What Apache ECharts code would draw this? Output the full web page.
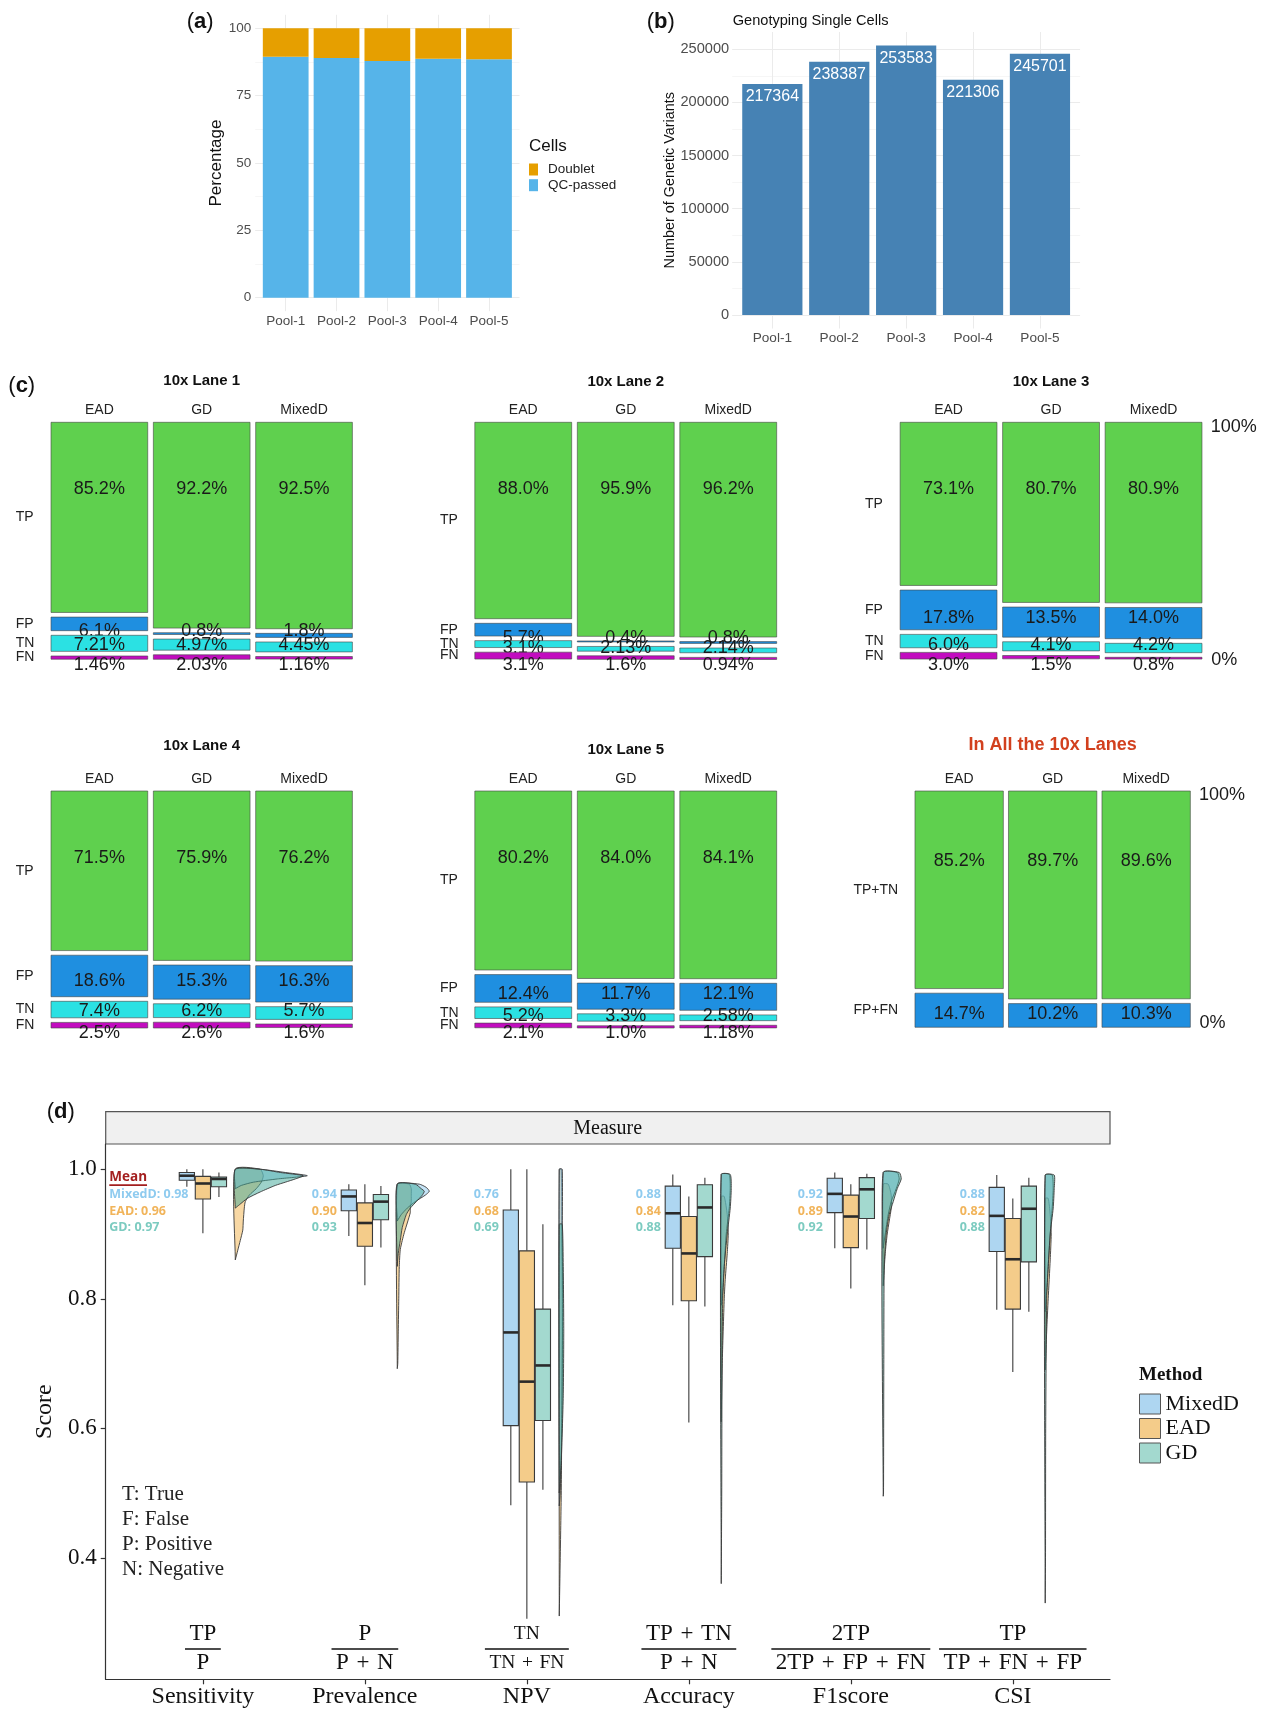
<!DOCTYPE html>
<html>
<head>
<meta charset="utf-8">
<title>Figure</title>
<script src="https://cdn.jsdelivr.net/npm/echarts@6.0.0/dist/echarts.min.js"></script>
<style>
html,body{margin:0;padding:0;background:#ffffff;}
#chart{width:1266px;height:1712px;}
</style>
</head>
<body>
<div id="chart"></div>
<script>
// ================= DATA =================
// (a) cell QC
const pools = ['Pool-1', 'Pool-2', 'Pool-3', 'Pool-4', 'Pool-5'];
const qcPassedPct = [89.4, 89.0, 87.9, 88.7, 88.5];
const doubletPct = [10.6, 11.0, 12.1, 11.3, 11.5];
const pctTicks = [0, 25, 50, 75, 100];
const pctMinorTicks = [12.5, 37.5, 62.5, 87.5];

// (b) genotyping
const variantCounts = [217364, 238387, 253583, 221306, 245701];
const variantTicks = [0, 50000, 100000, 150000, 200000, 250000];
const variantMinorTicks = [25000, 75000, 125000, 175000, 225000];

// (c) mosaic panels: per method [EAD, GD, MixedD], segments in row order
const mosaicMethods = ['EAD', 'GD', 'MixedD'];
const outcomeRows = ['TP', 'FP', 'TN', 'FN'];
const combinedRows = ['TP+TN', 'FP+FN'];
const lane1 = [['85.2', '6.1', '7.21', '1.46'], ['92.2', '0.8', '4.97', '2.03'], ['92.5', '1.8', '4.45', '1.16']];
const lane2 = [['88.0', '5.7', '3.1', '3.1'], ['95.9', '0.4', '2.13', '1.6'], ['96.2', '0.8', '2.14', '0.94']];
const lane3 = [['73.1', '17.8', '6.0', '3.0'], ['80.7', '13.5', '4.1', '1.5'], ['80.9', '14.0', '4.2', '0.8']];
const lane4 = [['71.5', '18.6', '7.4', '2.5'], ['75.9', '15.3', '6.2', '2.6'], ['76.2', '16.3', '5.7', '1.6']];
const lane5 = [['80.2', '12.4', '5.2', '2.1'], ['84.0', '11.7', '3.3', '1.0'], ['84.1', '12.1', '2.58', '1.18']];
const allLanes = [['85.2', '14.7'], ['89.7', '10.2'], ['89.6', '10.3']];

// (d) raincloud
const measures = ['Sensitivity', 'Prevalence', 'NPV', 'Accuracy', 'F1score', 'CSI'];
const methodsD = ['MixedD', 'EAD', 'GD'];
const scoreTicks = [0.4, 0.6, 0.8, 1.0];
const measureTicks = [1, 2, 3, 4, 5, 6];
// box stats: [min, Q1, median, Q3, max]
const boxMixedD = [[0.973, 0.983, 0.990, 0.995, 1.000], [0.897, 0.936, 0.958, 0.968, 0.977], [0.481, 0.604, 0.748, 0.937, 1.000],
                   [0.790, 0.878, 0.932, 0.974, 0.992], [0.878, 0.933, 0.962, 0.986, 0.995], [0.783, 0.873, 0.928, 0.972, 0.991]];
const boxEAD = [[0.901, 0.954, 0.978, 0.989, 1.000], [0.821, 0.881, 0.917, 0.948, 0.977], [0.306, 0.517, 0.672, 0.874, 1.000],
                [0.609, 0.797, 0.870, 0.927, 0.958], [0.816, 0.879, 0.927, 0.960, 0.977], [0.687, 0.784, 0.861, 0.924, 0.955]];
const boxGD = [[0.957, 0.973, 0.985, 0.988, 0.995], [0.879, 0.922, 0.950, 0.961, 0.974], [0.505, 0.612, 0.697, 0.784, 0.915],
               [0.788, 0.865, 0.941, 0.976, 0.987], [0.876, 0.924, 0.969, 0.987, 0.993], [0.780, 0.857, 0.939, 0.974, 0.987]];
const meanMixedD = [0.98, 0.94, 0.76, 0.88, 0.92, 0.88];
const meanEAD = [0.96, 0.90, 0.68, 0.84, 0.89, 0.82];
const meanGD = [0.97, 0.93, 0.69, 0.88, 0.92, 0.88];
// half-violin density profiles: [score, relative density]
const violinMixedD = [
  [[1.0, 25], [0.995, 50], [0.99, 72], [0.985, 42], [0.98, 18], [0.975, 6], [0.97, 0]],
  [[0.977, 22], [0.972, 29], [0.966, 32], [0.96, 28], [0.95, 18], [0.94, 10], [0.93, 4], [0.92, 0]],
  [[1.0, 3], [0.9, 3], [0.8, 3.5], [0.7, 3], [0.6, 2.5], [0.5, 1], [0.48, 0]],
  [[0.992, 8], [0.97, 9], [0.94, 8], [0.9, 5], [0.85, 3], [0.8, 1], [0.79, 0]],
  [[0.995, 14], [0.985, 16], [0.97, 13], [0.95, 8], [0.93, 5], [0.9, 2], [0.878, 0]],
  [[0.991, 7], [0.97, 8], [0.94, 7], [0.9, 5], [0.85, 3], [0.8, 1], [0.78, 0]]
];
const violinEAD = [
  [[1.0, 25], [0.99, 28], [0.98, 26], [0.97, 21], [0.96, 14], [0.95, 10], [0.94, 9], [0.92, 8], [0.906, 7.5], [0.89, 5], [0.875, 2.5], [0.86, 0]],
  [[0.977, 12], [0.97, 14], [0.96, 14], [0.95, 14], [0.94, 13], [0.933, 13], [0.917, 10], [0.902, 7], [0.89, 5], [0.876, 3], [0.85, 2], [0.8, 1.5], [0.75, 1], [0.7, 0.5], [0.692, 0]],
  [[1.0, 2], [0.9, 2.5], [0.8, 3], [0.7, 3], [0.6, 2.5], [0.5, 2], [0.4, 1], [0.31, 0]],
  [[0.958, 3], [0.93, 6], [0.9, 7], [0.87, 6], [0.83, 4], [0.8, 3], [0.7, 1], [0.61, 0]],
  [[0.977, 5], [0.96, 8], [0.94, 8], [0.92, 6], [0.9, 4], [0.87, 2], [0.82, 0]],
  [[0.955, 3], [0.93, 5], [0.9, 6], [0.86, 5], [0.8, 3], [0.75, 1.5], [0.69, 0]]
];
const violinGD = [
  [[1.0, 25], [0.995, 45], [0.99, 68], [0.985, 60], [0.98, 50], [0.975, 40], [0.965, 25], [0.955, 12], [0.945, 4], [0.94, 0]],
  [[0.977, 18], [0.97, 24], [0.966, 27], [0.96, 25], [0.95, 19], [0.94, 13], [0.93, 9], [0.91, 5], [0.89, 3], [0.87, 1], [0.85, 0]],
  [[0.915, 3], [0.85, 4], [0.75, 4.5], [0.65, 4], [0.55, 2], [0.5, 0]],
  [[0.992, 9], [0.97, 10], [0.94, 9], [0.9, 6], [0.85, 3], [0.8, 1.5], [0.7, 0.8], [0.5, 0.5], [0.36, 0]],
  [[0.995, 16], [0.985, 18], [0.97, 14], [0.95, 10], [0.93, 6], [0.9, 3], [0.85, 1], [0.7, 0.6], [0.5, 0.3], [0.495, 0]],
  [[0.991, 9], [0.97, 9], [0.94, 8], [0.9, 5], [0.85, 3], [0.8, 1.5], [0.6, 0.5], [0.4, 0.3], [0.33, 0]]
];
const formulaNum = ['TP', 'P', 'TN', 'TP + TN', '2TP', 'TP'];
const formulaDen = ['P', 'P + N', 'TN + FN', 'P + N', '2TP + FP + FN', 'TP + FN + FP'];
const notes = ['T: True', 'F: False', 'P: Positive', 'N: Negative'];

// ================= STYLE / LAYOUT =================
const SANS = '"Liberation Sans", Arial, Helvetica, sans-serif';
const SERIF = '"Liberation Serif", "Times New Roman", serif';
const OPEN = '"Open Sans", "Liberation Sans", sans-serif';
const measureCtx = document.createElement('canvas').getContext('2d');
function textWidth(str, font) { measureCtx.font = font; return measureCtx.measureText(str).width; }
function txt(text, x, y, o) {
  o = o || {};
  const align = o.align || 'left', va = o.va || 'middle';
  const style = {text: text, fill: o.fill || '#111', fontFamily: o.family || SANS, fontSize: o.size || 14,
    fontWeight: o.weight || 'normal', align: align, verticalAlign: va, textAlign: align, textVerticalAlign: va};
  if (o.rich) style.rich = o.rich;
  return {type: 'text', x: x, y: y, silent: true, style: style};
}

const segColors4 = ['#5FD04E', '#1F8FE0', '#2BE1E3', '#C20CBF'];
const segColors2 = ['#5FD04E', '#1F8FE0'];
const GAP_PX = 4.6;
const COL_W = 0.945;

const laneLayouts = [
  {values: lane1, rows: outcomeRows, title: '10x Lane 1', grid: {left: 48.2, top: 422.3, width: 307, height: 237}, titleDy: -41.5, rowDx: 32.5, pct: false},
  {values: lane2, rows: outcomeRows, title: '10x Lane 2', grid: {left: 472.0, top: 422.3, width: 307.5, height: 237}, titleDy: -40.5, rowDx: 32, pct: false},
  {values: lane3, rows: outcomeRows, title: '10x Lane 3', grid: {left: 897.3, top: 422.3, width: 307.5, height: 237}, titleDy: -40, rowDx: 32.3, pct: true},
  {values: lane4, rows: outcomeRows, title: '10x Lane 4', grid: {left: 48.2, top: 791, width: 307, height: 237}, titleDy: -45.3, rowDx: 32.5, pct: false},
  {values: lane5, rows: outcomeRows, title: '10x Lane 5', grid: {left: 472.0, top: 791, width: 307.5, height: 237}, titleDy: -41, rowDx: 32, pct: false},
  {values: allLanes, rows: combinedRows, title: 'In All the 10x Lanes', grid: {left: 912.4, top: 791, width: 280.5, height: 236.5}, titleDy: -46, rowDx: 59, pct: true, highlight: true}
];

const grids = [
  {left: 255.2, top: 14.8, width: 264.3, height: 296.4},   // (a)
  {left: 732.2, top: 32.0, width: 347.9, height: 296.5}    // (b)
];
laneLayouts.forEach(l => grids.push(l.grid));
grids.push({left: 105.7, top: 1144, width: 1004.3, height: 535.3}); // (d)
const GD_IDX = grids.length - 1;

const xAxes = [], yAxes = [], series = [], graphics = [];

// ---------- (a) ----------
const tickTxt = {color: '#4D4D4D', fontFamily: SANS};
xAxes.push({gridIndex: 0, type: 'value', min: 0.4, max: 5.6,
  axisLine: {show: false, onZero: false}, axisTick: {show: false, customValues: [1, 2, 3, 4, 5]},
  axisLabel: Object.assign({customValues: [1, 2, 3, 4, 5], formatter: v => pools[Math.round(v) - 1], fontSize: 13.5, margin: 3}, tickTxt),
  splitLine: {show: true, lineStyle: {color: '#EBEBEB', width: 1}}});
yAxes.push({gridIndex: 0, type: 'value', min: -5, max: 105,
  axisLine: {show: false, onZero: false}, axisTick: {show: false, customValues: pctTicks},
  axisLabel: Object.assign({customValues: pctTicks, fontSize: 13.5, margin: 4}, tickTxt),
  splitLine: {show: true, lineStyle: {color: '#EBEBEB', width: 1}},
  name: 'Percentage', nameLocation: 'middle', nameGap: 29, nameTextStyle: {fontFamily: SANS, fontSize: 17, color: '#111'}});
yAxes.push({gridIndex: 0, type: 'value', min: -5, max: 105,
  axisLine: {show: false, onZero: false}, axisTick: {show: false, customValues: pctMinorTicks},
  axisLabel: {show: false, customValues: pctMinorTicks},
  splitLine: {show: true, lineStyle: {color: '#F4F4F4', width: 0.8}}});

function stackedRender(params, api) {
  const x = api.value(0);
  const p1 = api.coord([x - 0.45, api.value(2)]);
  const p2 = api.coord([x + 0.45, api.value(1)]);
  return {type: 'rect', shape: {x: p1[0], y: p1[1], width: p2[0] - p1[0], height: p2[1] - p1[1]},
    style: {fill: api.visual('color')}};
}
series.push({type: 'custom', name: 'QC-passed', xAxisIndex: 0, yAxisIndex: 0, itemStyle: {color: '#56B4E9'},
  data: pools.map((p, i) => [i + 1, 0, qcPassedPct[i]]), encode: {x: 0, y: [1, 2]}, renderItem: stackedRender});
series.push({type: 'custom', name: 'Doublet', xAxisIndex: 0, yAxisIndex: 0, itemStyle: {color: '#E69F00'},
  data: pools.map((p, i) => [i + 1, qcPassedPct[i], qcPassedPct[i] + doubletPct[i]]), encode: {x: 0, y: [1, 2]}, renderItem: stackedRender});

// ---------- (b) ----------
const bMax = Math.max.apply(null, variantCounts);
xAxes.push({gridIndex: 1, type: 'value', min: 0.4, max: 5.6,
  axisLine: {show: false, onZero: false}, axisTick: {show: false, customValues: [1, 2, 3, 4, 5]},
  axisLabel: Object.assign({customValues: [1, 2, 3, 4, 5], formatter: v => pools[Math.round(v) - 1], fontSize: 13.6, margin: 3}, tickTxt),
  splitLine: {show: true, lineStyle: {color: '#EBEBEB', width: 1}}});
yAxes.push({gridIndex: 1, type: 'value', min: -0.05 * bMax, max: 1.05 * bMax,
  axisLine: {show: false, onZero: false}, axisTick: {show: false, customValues: variantTicks},
  axisLabel: Object.assign({customValues: variantTicks, formatter: v => String(Math.round(v)), fontSize: 14.6, margin: 3}, tickTxt),
  splitLine: {show: true, lineStyle: {color: '#EBEBEB', width: 1}},
  name: 'Number of Genetic Variants', nameLocation: 'middle', nameGap: 53, nameTextStyle: {fontFamily: SANS, fontSize: 14.4, color: '#111'}});
yAxes.push({gridIndex: 1, type: 'value', min: -0.05 * bMax, max: 1.05 * bMax,
  axisLine: {show: false, onZero: false}, axisTick: {show: false, customValues: variantMinorTicks},
  axisLabel: {show: false, customValues: variantMinorTicks},
  splitLine: {show: true, lineStyle: {color: '#F4F4F4', width: 0.8}}});
series.push({type: 'bar', name: 'variants', xAxisIndex: 1, yAxisIndex: 2, barWidth: '90%',
  itemStyle: {color: '#4682B4'},
  data: variantCounts.map((v, i) => [i + 1, v]),
  label: {show: true, position: 'insideTop', distance: 5, color: '#ffffff', fontFamily: SANS, fontSize: 16,
    formatter: p => String(p.value[1])}});

// ---------- (c) ----------
function segBounds(vals, seg, gapU, yMax) {
  let top = yMax;
  for (let k = 0; k < seg; k++) top -= vals[k] + gapU;
  return [top, top - vals[seg]];
}
laneLayouts.forEach((lay, li) => {
  const gi = 2 + li;
  const nSeg = lay.rows.length;
  const vals = lay.values.map(a => a.map(Number));
  const gapU = GAP_PX * 100 / (lay.grid.height - (nSeg - 1) * GAP_PX);
  const yMax = 100 + (nSeg - 1) * gapU;
  const colors = nSeg === 4 ? segColors4 : segColors2;
  xAxes.push({gridIndex: gi, type: 'value', min: -0.5, max: 2.5, position: 'top',
    axisLine: {show: false, onZero: false}, axisTick: {show: false, customValues: [0, 1, 2]},
    axisLabel: {customValues: [0, 1, 2], formatter: v => mosaicMethods[Math.round(v)], fontFamily: SANS, fontSize: 14, color: '#222', margin: 5},
    splitLine: {show: false}});
  yAxes.push({gridIndex: gi, type: 'value', min: 0, max: yMax, show: false});
  const data = [];
  for (let c = 0; c < 3; c++) for (let s = 0; s < nSeg; s++) data.push([c, s]);
  series.push({type: 'custom', name: lay.title, xAxisIndex: xAxes.length - 1, yAxisIndex: yAxes.length - 1,
    clip: false, data: data, encode: {x: 0, y: 1},
    renderItem: function (params, api) {
      const col = api.value(0), seg = api.value(1);
      const b = segBounds(vals[col], seg, gapU, yMax);
      const p1 = api.coord([col - COL_W / 2, b[0]]);
      const p2 = api.coord([col + COL_W / 2, b[1]]);
      const h = Math.max(p2[1] - p1[1], 1);
      const ch = [{type: 'rect', shape: {x: p1[0], y: p1[1], width: p2[0] - p1[0], height: h},
        style: {fill: colors[seg], stroke: 'rgba(70,70,70,0.6)', lineWidth: 1}}];
      let ly;
      if (seg === 0) ly = api.coord([col, yMax - 30])[1];
      else if (nSeg === 4 && seg === 3) ly = api.coord([col, 0])[1] + 5.5;
      else {
        let sum = 0;
        for (let c = 0; c < 3; c++) { const bb = segBounds(vals[c], seg, gapU, yMax); sum += (bb[0] + bb[1]) / 2; }
        ly = api.coord([col, sum / 3])[1];
      }
      ch.push(txt(lay.values[col][seg] + '%', (p1[0] + p2[0]) / 2, ly, {size: 18, fill: '#1a1a1a', align: 'center'}));
      if (col === 0) {
        const gl = api.coord([-0.5, 0])[0];
        ch.push(txt(lay.rows[seg], gl - lay.rowDx, (p1[1] + p2[1]) / 2, {size: 14, fill: '#222'}));
      }
      if (lay.pct && col === 2) {
        const gr = api.coord([2.5, 0])[0];
        if (seg === 0) ch.push(txt('100%', gr + 6, api.coord([2.5, yMax])[1] + 4.4, {size: 18, fill: '#1a1a1a'}));
        if (seg === nSeg - 1) ch.push(txt('0%', gr + 6.5, api.coord([2.5, 0])[1] + (nSeg === 4 ? 0.7 : -4), {size: 18, fill: '#1a1a1a'}));
      }
      return {type: 'group', children: ch};
    }});
  const g = lay.grid;
  graphics.push(txt(lay.title, g.left + g.width / 2, g.top + lay.titleDy,
    lay.highlight ? {size: 18, weight: 'bold', fill: '#D2401E', align: 'center'} : {size: 15, weight: 'bold', fill: '#111', align: 'center'}));
});

// ---------- (d) ----------
const DX = xAxes.length, DY = yAxes.length;
xAxes.push({gridIndex: GD_IDX, type: 'value', min: 0.4, max: 6.6,
  axisLine: {show: true, onZero: false, lineStyle: {color: '#333', width: 1.2}},
  axisTick: {show: true, customValues: measureTicks, length: 5, lineStyle: {color: '#333', width: 1.2}},
  axisLabel: {customValues: measureTicks, formatter: v => measures[Math.round(v) - 1], fontFamily: SERIF, fontSize: 24, color: '#111', margin: 5},
  splitLine: {show: false}});
yAxes.push({gridIndex: GD_IDX, type: 'value', min: 0.2123, max: 1.039,
  axisLine: {show: true, onZero: false, lineStyle: {color: '#333', width: 1.2}},
  axisTick: {show: true, customValues: scoreTicks, length: 5, lineStyle: {color: '#333', width: 1.2}},
  axisLabel: {customValues: scoreTicks, formatter: v => v.toFixed(1), fontFamily: SERIF, fontSize: 23, color: '#111', margin: 9},
  splitLine: {show: false},
  name: 'Score', nameLocation: 'middle', nameGap: 48, nameTextStyle: {fontFamily: SERIF, fontSize: 24, color: '#111'}});

const boxFill = ['#AED6F1', '#F4CC8A', '#A3D9CF'];
const boxOffset = [-0.099, 0, 0.099];
const BOX_HALF = 0.047;
[boxMixedD, boxEAD, boxGD].forEach((stats, mi) => {
  series.push({type: 'custom', name: methodsD[mi], xAxisIndex: DX, yAxisIndex: DY, clip: false,
    itemStyle: {color: boxFill[mi], borderColor: '#444'},
    data: stats.map((s, i) => [i + 1].concat(s)), encode: {x: 0, y: [1, 2, 3, 4, 5]},
    renderItem: function (params, api) {
      const cx = api.value(0) + boxOffset[mi];
      const pLo = api.coord([cx, api.value(1)]), pQ1 = api.coord([cx, api.value(2)]), pMd = api.coord([cx, api.value(3)]);
      const pQ3 = api.coord([cx, api.value(4)]), pHi = api.coord([cx, api.value(5)]);
      const hw = api.size([BOX_HALF, 0])[0];
      const ln = {stroke: '#3a3a3a', lineWidth: 1.1};
      return {type: 'group', children: [
        {type: 'line', shape: {x1: pLo[0], y1: pLo[1], x2: pQ1[0], y2: pQ1[1]}, style: ln},
        {type: 'line', shape: {x1: pQ3[0], y1: pQ3[1], x2: pHi[0], y2: pHi[1]}, style: ln},
        {type: 'rect', shape: {x: pQ1[0] - hw, y: pQ3[1], width: 2 * hw, height: pQ1[1] - pQ3[1]}, style: {fill: boxFill[mi], stroke: '#3a3a3a', lineWidth: 1.1}},
        {type: 'line', shape: {x1: pMd[0] - hw, y1: pMd[1], x2: pMd[0] + hw, y2: pMd[1]}, style: {stroke: '#2a2a2a', lineWidth: 2.6}}
      ]};
    }});
});

const VIOLIN_OFFSET = 0.2;
const VIOLIN_SCALE = 1 / 162;
const violinFill = {MixedD: 'rgba(150,205,240,0.55)', EAD: 'rgba(245,200,125,0.7)', GD: 'rgba(60,165,150,0.5)'};
[['EAD', violinEAD], ['MixedD', violinMixedD], ['GD', violinGD]].forEach(([name, dens]) => {
  series.push({type: 'custom', name: name, xAxisIndex: DX, yAxisIndex: DY, clip: false,
    itemStyle: {color: violinFill[name]},
    data: dens.map((d, i) => [i + 1, d[0][0]]), encode: {x: 0, y: 1},
    renderItem: function (params, api) {
      const d = dens[params.dataIndex];
      const x0 = api.value(0) + VIOLIN_OFFSET;
      const pts = [api.coord([x0, d[0][0]])];
      d.forEach(p => pts.push(api.coord([x0 + p[1] * VIOLIN_SCALE, p[0]])));
      pts.push(api.coord([x0, d[d.length - 1][0]]));
      return {type: 'polygon', shape: {points: pts, smooth: 0.2},
        style: {fill: violinFill[name], stroke: '#3a3a3a', lineWidth: 0.9}};
    }});
});

// mean annotations
const meanColors = ['#8FCBEF', '#F1B45A', '#7CCBC0'];
const MEAN_FONT = 'bold 12.5px "Open Sans"';
series.push({type: 'custom', name: 'means', xAxisIndex: DX, yAxisIndex: DY, clip: false, silent: true,
  data: measures.map((m, i) => [i + 1, meanMixedD[i], meanEAD[i], meanGD[i]]), encode: {x: 0, y: 1},
  renderItem: function (params, api) {
    const i = params.dataIndex, cat = api.value(0);
    const base = api.coord([cat, 1.0]);
    const vals = [api.value(1), api.value(2), api.value(3)];
    const ch = [];
    if (i === 0) {
      const x = api.coord([0.4, 1.0])[0] + 3.6;
      const w = textWidth('Mean', 'bold 13.5px "Open Sans"');
      ch.push(txt('Mean', x, base[1] + 8, {size: 13.5, weight: 'bold', family: OPEN, fill: '#A31F1F'}));
      ch.push({type: 'rect', shape: {x: x, y: base[1] + 15, width: w, height: 1.8}, style: {fill: '#A31F1F'}});
      vals.forEach((v, k) => ch.push(txt(methodsD[k] + ': ' + v.toFixed(2), x, base[1] + 25 + 16.8 * k,
        {size: 12.5, weight: 'bold', family: OPEN, fill: meanColors[k]})));
    } else {
      const x = api.coord([cat - 0.173, 1.0])[0];
      vals.forEach((v, k) => ch.push(txt(v.toFixed(2), x, base[1] + 25 + 16.8 * k,
        {size: 12.5, weight: 'bold', family: OPEN, fill: meanColors[k], align: 'right'})));
    }
    return {type: 'group', children: ch};
  }});

// formula annotations
const formulaSize = [23, 23, 19.5, 23, 23, 23];
const fmt = s => s.replace(/ \+ /g, '\u2004+\u2004');
series.push({type: 'custom', name: 'formulas', xAxisIndex: DX, yAxisIndex: DY, clip: false, silent: true,
  data: measures.map((m, i) => [i + 1, 0.259]), encode: {x: 0, y: 1},
  renderItem: function (params, api) {
    const i = params.dataIndex;
    const p = api.coord([api.value(0), api.value(1)]);
    const fs = formulaSize[i];
    const font = fs + 'px "Liberation Serif"';
    const num = fmt(formulaNum[i]), den = fmt(formulaDen[i]);
    const w = Math.max(textWidth(num, font), textWidth(den, font)) + 9;
    return {type: 'group', children: [
      {type: 'line', shape: {x1: p[0] - w / 2, y1: p[1], x2: p[0] + w / 2, y2: p[1]}, style: {stroke: '#111', lineWidth: 1.6}},
      txt(num, p[0], p[1] - 15, {size: fs, family: SERIF, fill: '#111', align: 'center'}),
      txt(den, p[0], p[1] + 13.5, {size: fs, family: SERIF, fill: '#111', align: 'center'})
    ]};
  }});

// ---------- graphics ----------
function letter(l, x, y) {
  return txt('{p|(}{b|' + l + '}{p|)}', x, y, {size: 22, rich: {
    p: {fontSize: 22, fontFamily: SANS, fill: '#111'}, b: {fontSize: 22, fontFamily: SANS, fontWeight: 'bold', fill: '#111'}}});
}
graphics.push(letter('a', 186.7, 21.7));
graphics.push(letter('b', 646.7, 21.7));
graphics.push(letter('c', 8.3, 386));
graphics.push(letter('d', 46.7, 1111.7));
graphics.push(txt('Cells', 529, 146.7, {size: 17, fill: '#111'}));
graphics.push(txt('Genotyping Single Cells', 732.7, 20.7, {size: 14.6, fill: '#111'}));
graphics.push({type: 'rect', silent: true, shape: {x: 105.7, y: 1111.7, width: 1004.3, height: 32.3},
  style: {fill: '#F0F0F0', stroke: '#555', lineWidth: 1.2}});
graphics.push(txt('Measure', 607.7, 1128.3, {size: 20, family: SERIF, fill: '#111', align: 'center'}));
graphics.push(txt('Method', 1139, 1375, {size: 19, family: SERIF, weight: 'bold', fill: '#111'}));
notes.forEach((n, k) => graphics.push(txt(n, 122, 1494.5 + 25 * k, {size: 21, family: SERIF, fill: '#222'})));

const option = {
  animation: false,
  backgroundColor: '#ffffff',
  grid: grids,
  xAxis: xAxes,
  yAxis: yAxes,
  legend: [
    {data: ['Doublet', 'QC-passed'], orient: 'vertical', left: 529, top: 162.5, itemWidth: 9, itemHeight: 12, itemGap: 1.7,
      icon: 'rect', selectedMode: false, padding: 0,
      textStyle: {fontFamily: SANS, fontSize: 13.5, color: '#222', lineHeight: 12, padding: [0, 0, 0, 5]}},
    {data: methodsD, orient: 'vertical', left: 1139, top: 1393, itemWidth: 21, itemHeight: 20, itemGap: 2.5,
      icon: 'rect', selectedMode: false, padding: 0,
      itemStyle: {borderColor: '#555', borderWidth: 1},
      textStyle: {fontFamily: SERIF, fontSize: 22, color: '#111', lineHeight: 20}}
  ],
  series: series,
  graphic: graphics
};

const chart = echarts.init(document.getElementById('chart'), null, {renderer: 'canvas', width: 1266, height: 1712});
chart.setOption(option);
</script>
</body>
</html>
